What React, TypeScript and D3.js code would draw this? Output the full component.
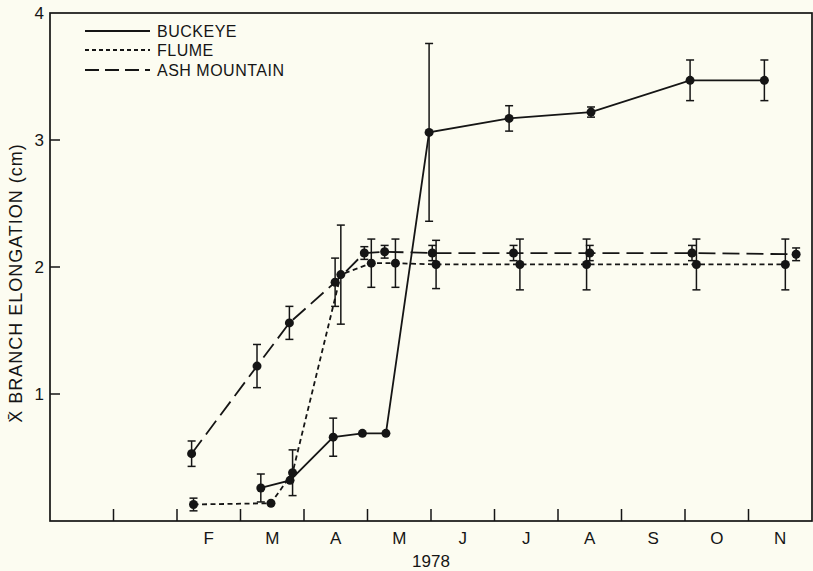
import React, { useEffect, useRef } from "react";
import * as d3 from "d3";

const WIDTH = 813;
const HEIGHT = 571;

// x values are months counted from 1 Dec 1977 (0) to 1 Dec 1978 (12)
const monthLabels = ["F", "M", "A", "M", "J", "J", "A", "S", "O", "N"];
const monthTicks = [1, 2, 3, 4, 5, 6, 7, 8, 9, 10, 11];
const yTicks = [1, 2, 3, 4];

const buckeyeMonths = [3.32, 3.78, 4.46, 4.92, 5.29, 5.97, 7.23, 8.52, 10.08, 11.25];
const buckeyeMeans = [0.26, 0.32, 0.66, 0.69, 0.69, 3.06, 3.17, 3.22, 3.47, 3.47];
const buckeyeErr = [0.11, 0, 0.15, 0, 0, 0.7, 0.1, 0.04, 0.16, 0.16];

const flumeMonths = [2.26, 3.48, 3.82, 4.58, 5.06, 5.44, 6.08, 7.4, 8.45, 10.18, 11.58];
const flumeMeans = [0.13, 0.14, 0.38, 1.94, 2.03, 2.03, 2.02, 2.02, 2.02, 2.02, 2.02];
const flumeErr = [0.05, 0, 0.18, 0.39, 0.19, 0.19, 0.19, 0.2, 0.2, 0.2, 0.2];

const ashMonths = [2.23, 3.26, 3.77, 4.49, 4.95, 5.27, 6.02, 7.3, 8.5, 10.11, 11.75];
const ashMeans = [0.53, 1.22, 1.56, 1.88, 2.11, 2.12, 2.11, 2.11, 2.11, 2.11, 2.1];
const ashErr = [0.1, 0.17, 0.13, 0.19, 0.05, 0.05, 0.06, 0.06, 0.06, 0.06, 0.05];

const seriesNames = ["BUCKEYE", "FLUME", "ASH MOUNTAIN"];
const seriesDash = ["none", "5,3.5", "17,7"];
const legendDash = ["none", "4,3", "14,6"];

const INK = "#151515";
const FONT = "'Liberation Sans', Arial, sans-serif";

export default function App() {
  const ref = useRef<SVGSVGElement>(null);

  useEffect(() => {
    const svg = d3.select(ref.current);
    svg.selectAll("*").remove();

    const x = d3.scaleLinear().domain([0, 12]).range([50, 812]);
    const y = d3.scaleLinear().domain([0, 4]).range([521, 13]);

    svg.append("rect").attr("width", WIDTH).attr("height", HEIGHT).attr("fill", "#fcfcf1");

    // frame
    svg.append("rect")
      .attr("x", x(0)).attr("y", y(4))
      .attr("width", x(12) - x(0)).attr("height", y(0) - y(4))
      .attr("fill", "none").attr("stroke", INK).attr("stroke-width", 1.7);

    // x ticks (inward)
    svg.append("g").selectAll("line").data(monthTicks).join("line")
      .attr("x1", d => x(d)).attr("x2", d => x(d))
      .attr("y1", y(0)).attr("y2", y(0) - 12)
      .attr("stroke", INK).attr("stroke-width", 1.5);

    svg.append("g").selectAll("text").data(monthLabels).join("text")
      .attr("x", (d, i) => x(i + 2.5)).attr("y", 544)
      .attr("text-anchor", "middle")
      .attr("font-family", FONT).attr("font-size", 17).attr("fill", INK)
      .text(d => d);

    svg.append("text")
      .attr("x", x(6)).attr("y", 567)
      .attr("text-anchor", "middle")
      .attr("font-family", FONT).attr("font-size", 17).attr("fill", INK)
      .text("1978");

    // y ticks (inward)
    svg.append("g").selectAll("line").data(yTicks.filter(d => d < 4)).join("line")
      .attr("x1", x(0)).attr("x2", x(0) + 10)
      .attr("y1", d => y(d)).attr("y2", d => y(d))
      .attr("stroke", INK).attr("stroke-width", 1.5);

    svg.append("g").selectAll("text").data(yTicks).join("text")
      .attr("x", 44).attr("y", d => y(d))
      .attr("dy", "0.36em")
      .attr("text-anchor", "end")
      .attr("font-family", FONT).attr("font-size", 17).attr("fill", INK)
      .text(d => d);

    svg.append("text")
      .attr("transform", "translate(16," + 283 + ") rotate(-90)")
      .attr("text-anchor", "middle").attr("dy", "0.36em")
      .attr("font-family", FONT).attr("font-size", 18).attr("fill", INK)
      .attr("letter-spacing", 1)
      .text("X\u0304 BRANCH ELONGATION (cm)");

    const series = [
      { months: buckeyeMonths, means: buckeyeMeans, err: buckeyeErr },
      { months: flumeMonths, means: flumeMeans, err: flumeErr },
      { months: ashMonths, means: ashMeans, err: ashErr },
    ];

    series.forEach((s, k) => {
      const pts = s.months.map((m, i) => [x(m), y(s.means[i])] as [number, number]);
      const g = svg.append("g");

      g.append("path")
        .attr("d", d3.line()(pts))
        .attr("fill", "none").attr("stroke", INK)
        .attr("stroke-width", 1.8)
        .attr("stroke-dasharray", seriesDash[k]);

      s.months.forEach((m, i) => {
        const e = s.err[i];
        if (e > 0) {
          const cx = x(m);
          const top = y(s.means[i] + e);
          const bot = y(s.means[i] - e);
          g.append("line").attr("x1", cx).attr("x2", cx).attr("y1", top).attr("y2", bot)
            .attr("stroke", INK).attr("stroke-width", 1.5);
          g.append("line").attr("x1", cx - 4).attr("x2", cx + 4).attr("y1", top).attr("y2", top)
            .attr("stroke", INK).attr("stroke-width", 1.5);
          g.append("line").attr("x1", cx - 4).attr("x2", cx + 4).attr("y1", bot).attr("y2", bot)
            .attr("stroke", INK).attr("stroke-width", 1.5);
        }
      });

      g.selectAll("circle").data(pts).join("circle")
        .attr("cx", d => d[0]).attr("cy", d => d[1])
        .attr("r", 4.5).attr("fill", INK);
    });

    // legend
    const legendRows = [31, 50, 70];
    seriesNames.forEach((name, k) => {
      svg.append("line")
        .attr("x1", 85).attr("x2", 150)
        .attr("y1", legendRows[k]).attr("y2", legendRows[k])
        .attr("stroke", INK).attr("stroke-width", 1.8)
        .attr("stroke-dasharray", legendDash[k]);
      svg.append("text")
        .attr("x", 157).attr("y", legendRows[k]).attr("dy", "0.36em")
        .attr("font-family", FONT).attr("font-size", 16).attr("fill", INK)
        .attr("letter-spacing", 0.5)
        .text(name);
    });
  }, []);

  return (
    <svg
      ref={ref}
      width={WIDTH}
      height={HEIGHT}
      style={{ position: "absolute", left: 0, top: 0, display: "block" }}
    />
  );
}
